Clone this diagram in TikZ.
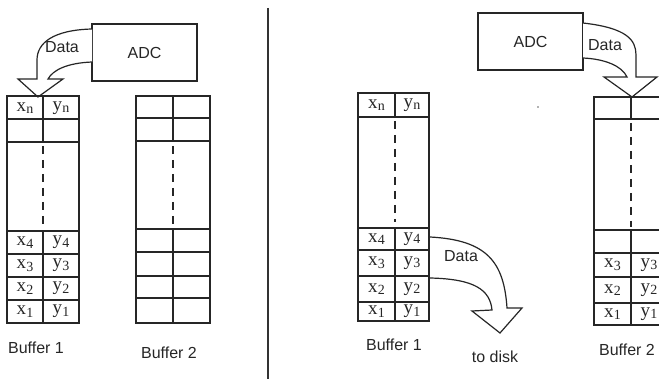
\documentclass[tikz,border=0pt]{standalone}
\usepackage{fontspec}
\setmainfont{Liberation Serif}
\newfontfamily\labelfont{Liberation Sans}
\usetikzlibrary{calc}
\tikzset{
  gridline/.style={line width=1.2pt, draw=black!85},
  frame/.style={line width=1.5pt, draw=black!85},
  divdash/.style={line width=1.2pt, draw=black!85, dash pattern=on 8pt off 6pt},
  caption/.style={font=\labelfont\fontsize{16}{18}\selectfont, inner sep=0pt, text=black!85},
  cell/.style={font=\fontsize{19}{20}\selectfont, inner sep=0pt, text=black!85},
  fatarrow/.style={line width=1.2pt, draw=black!85, fill=white, line join=miter},
  adcbox/.style={draw=black!85, line width=1.4pt, minimum width=105pt, minimum height=57pt,
                 inner sep=0pt, font=\labelfont\fontsize{16}{18}\selectfont, text=black!85},
}
% a cell label with a lowered index
\newcommand\xs[2]{#1\kern0.2pt\raisebox{-0.3ex}{\fontsize{14}{15}\selectfont #2}}
\begin{document}
\begin{tikzpicture}[x=1pt,y=-1pt]
\useasboundingbox (0,0) rectangle (659,387);
\clip (0,0) rectangle (659,387);

% ---------- left half: ADC fills buffer 1 ----------
\node[adcbox] (adcL) at (144.5,52.5) {ADC};
\coordinate (adcLo) at (92,29);
\coordinate (adcLi) at (92,62);
\draw[fatarrow] (adcLo) .. controls (53,30) and (37,43) .. (37,60) -- (37,79)
  -- (18,79) -- (38,97) -- (63,79) -- (48,79)
  .. controls (53,70) and (67,63) .. (adcLi);
\node[caption] (dataL) at (62,47) {Data};

% buffer 1 (left)
\draw[gridline] (7,119) -- (79,119) (7,142) -- (79,142)
  (7,254) -- (79,254) (7,277) -- (79,277) (7,300) -- (79,300) (7,231) -- (79,231);
\draw[gridline] (43,96) -- (43,142) (43,231) -- (43,323);
\draw[divdash] (43,146) -- (43,225);
\draw[frame] (7,96) rectangle (79,323);
\node[cell] (l1xn) at (25,108) {\xs{x}{n}};
\node[cell] (l1yn) at (61,108) {\xs{y}{n}};
\node[cell] (l1x4) at (25,242.5) {\xs{x}{4}};
\node[cell] (l1y4) at (61,242.5) {\xs{y}{4}};
\node[cell] (l1x3) at (25,265.5) {\xs{x}{3}};
\node[cell] (l1y3) at (61,265.5) {\xs{y}{3}};
\node[cell] (l1x2) at (25,288.5) {\xs{x}{2}};
\node[cell] (l1y2) at (61,288.5) {\xs{y}{2}};
\node[cell] (l1x1) at (25,311.5) {\xs{x}{1}};
\node[cell] (l1y1) at (61,311.5) {\xs{y}{1}};
\node[caption] (buf1L) at (36,348) {Buffer 1};

% buffer 2 (left), still empty
\draw[gridline] (136,118) -- (210,118) (136,141) -- (210,141)
  (136,229) -- (210,229) (136,252) -- (210,252) (136,276) -- (210,276) (136,298) -- (210,298);
\draw[gridline] (173,96) -- (173,141) (173,229) -- (173,323);
\draw[divdash] (173,146) -- (173,225);
\draw[frame] (136,96) rectangle (210,323);
\node[caption] (buf2L) at (169,353) {Buffer 2};

% separator
\draw[line width=1.3pt, draw=black!80] (268,8) -- (268,379);

% ---------- right half: buffer 1 to disk, ADC fills buffer 2 ----------
% buffer 1 (right)
\draw[gridline] (358,117) -- (429,117)
  (358,228) -- (429,228) (358,250) -- (429,250) (358,276) -- (429,276) (358,302) -- (429,302);
\draw[gridline] (395,93) -- (395,117) (395,228) -- (395,321);
\draw[divdash] (395,121) -- (395,222);
\draw[frame] (358,93) rectangle (429,321);
\node[cell] (r1xn) at (376.5,105) {\xs{x}{n}};
\node[cell] (r1yn) at (412,105) {\xs{y}{n}};
\node[cell] (r1x4) at (376.5,239) {\xs{x}{4}};
\node[cell] (r1y4) at (412,239) {\xs{y}{4}};
\node[cell] (r1x3) at (376.5,263) {\xs{x}{3}};
\node[cell] (r1y3) at (412,263) {\xs{y}{3}};
\node[cell] (r1x2) at (376.5,289) {\xs{x}{2}};
\node[cell] (r1y2) at (412,289) {\xs{y}{2}};
\node[cell] (r1x1) at (376.5,311.5) {\xs{x}{1}};
\node[cell] (r1y1) at (412,311.5) {\xs{y}{1}};
\node[caption] (buf1R) at (394,345) {Buffer 1};

% data leaving buffer 1
\coordinate (outo) at (430,237);
\coordinate (outi) at (430,278);
\draw[fatarrow] (outo) .. controls (487,240) and (504,262) .. (507,308)
  -- (522,308) -- (500,333) -- (472,311) -- (492,310)
  .. controls (490,290) and (475,279) .. (outi);
\node[caption] (dataM) at (461,256) {Data};
\node[caption] (disk) at (495,357) {to disk};

% ADC (right)
\node[adcbox] (adcR) at (530.5,41.5) {ADC};
\coordinate (adcRo) at (583,23);
\coordinate (adcRi) at (583,58);
\draw[fatarrow] (adcRo) .. controls (627,28) and (636,40) .. (636,55) -- (636,77)
  -- (657,77) -- (632,97) -- (604,77) -- (627,77)
  .. controls (622,66) and (605,59) .. (adcRi);
\node[caption] (dataR) at (605,45) {Data};
\fill[black!60] (538,107) circle (0.8pt);

% buffer 2 (right)
\draw[gridline] (594,119) -- (668,119)
  (594,230) -- (668,230) (594,253) -- (668,253) (594,277) -- (668,277) (594,303) -- (668,303);
\draw[gridline] (631,97) -- (631,119) (631,230) -- (631,325);
\draw[divdash] (631,123) -- (631,227);
\draw[frame] (594,97) rectangle (668,325);
\node[cell] (r2x3) at (612.5,265) {\xs{x}{3}};
\node[cell] (r2y3) at (649,265) {\xs{y}{3}};
\node[cell] (r2x2) at (612.5,290) {\xs{x}{2}};
\node[cell] (r2y2) at (649,290) {\xs{y}{2}};
\node[cell] (r2x1) at (612.5,314) {\xs{x}{1}};
\node[cell] (r2y1) at (649,314) {\xs{y}{1}};
\node[caption] (buf2R) at (627,350) {Buffer 2};
\end{tikzpicture}
\end{document}
